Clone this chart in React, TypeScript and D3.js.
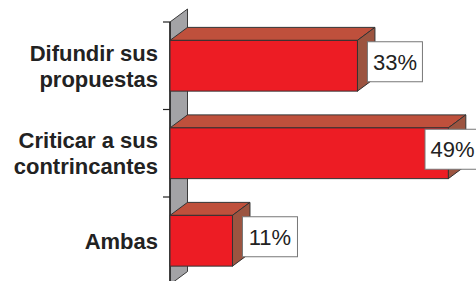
import * as d3 from 'd3';
import { useEffect, useRef } from 'react';

const categories = ['Difundir sus propuestas', 'Criticar a sus contrincantes', 'Ambas'];
const categoryLines = [['Difundir sus', 'propuestas'], ['Criticar a sus', 'contrincantes'], ['Ambas']];
const values = [33, 49, 11];
const valueLabels = ['33%', '49%', '11%'];

const WIDTH = 476;
const HEIGHT = 281;

export default function App() {
  const svgRef = useRef<SVGSVGElement | null>(null);

  useEffect(() => {
    if (!svgRef.current) return;
    const svg = d3.select(svgRef.current);
    svg.selectAll('*').remove();

    const font = "'Liberation Sans', Arial, sans-serif";
    const depthX = 17.5;
    const depthY = -13;
    const axisX = 170;
    const plotTop = 22;

    const x = d3.scaleLinear().domain([0, 50]).range([axisX, 454]);
    const y = d3
      .scaleBand<string>()
      .domain(categories)
      .range([plotTop, plotTop + 262.5])
      .paddingInner(0.42)
      .paddingOuter(0.21);
    const step = y.step();
    const bw = y.bandwidth();
    const plotBottom = plotTop + step * categories.length;

    const poly = (pts: [number, number][]) => pts.map((p) => p.join(',')).join(' ');

    // side wall
    svg
      .append('polygon')
      .attr(
        'points',
        poly([
          [axisX, plotTop],
          [axisX + depthX, plotTop + depthY],
          [axisX + depthX, plotBottom + depthY],
          [axisX, plotBottom],
        ]),
      )
      .attr('fill', '#a3a3a6')
      .attr('stroke', '#3a3a3a')
      .attr('stroke-width', 1);

    // axis line + ticks
    svg
      .append('line')
      .attr('x1', axisX)
      .attr('x2', axisX)
      .attr('y1', plotTop)
      .attr('y2', plotBottom)
      .attr('stroke', '#222')
      .attr('stroke-width', 1.5);

    d3.range(categories.length + 1).forEach((i) => {
      const ty = plotTop + i * step;
      svg
        .append('line')
        .attr('x1', axisX - 7)
        .attr('x2', axisX)
        .attr('y1', ty)
        .attr('y2', ty)
        .attr('stroke', '#222')
        .attr('stroke-width', 1.2);
    });

    const bars = svg
      .selectAll('g.bar')
      .data(categories)
      .join('g')
      .attr('class', 'bar');

    bars.each(function drawBar(cat, i) {
      const g = d3.select(this);
      const x0 = x(0);
      const x1 = x(values[i]);
      const y0 = y(cat)!;
      const y1 = y0 + bw;

      // top face
      g.append('polygon')
        .attr(
          'points',
          poly([
            [x0, y0],
            [x0 + depthX, y0 + depthY],
            [x1 + depthX, y0 + depthY],
            [x1, y0],
          ]),
        )
        .attr('fill', '#bf503c')
        .attr('stroke', '#333')
        .attr('stroke-width', 1);

      // side face
      g.append('polygon')
        .attr(
          'points',
          poly([
            [x1, y0],
            [x1 + depthX, y0 + depthY],
            [x1 + depthX, y1 + depthY],
            [x1, y1],
          ]),
        )
        .attr('fill', '#9c5440')
        .attr('stroke', '#333')
        .attr('stroke-width', 1);

      // front face
      g.append('rect')
        .attr('x', x0)
        .attr('y', y0)
        .attr('width', x1 - x0)
        .attr('height', bw)
        .attr('fill', '#ed1c24')
        .attr('stroke', '#333')
        .attr('stroke-width', 1);

      // value label
      const boxW = 55;
      const boxH = 40;
      const bx = Math.min(x1 + 10, WIDTH - 51);
      const cy = y0 + bw / 2 - 4;
      g.append('rect')
        .attr('x', bx)
        .attr('y', cy - boxH / 2)
        .attr('width', boxW)
        .attr('height', boxH)
        .attr('fill', '#fff')
        .attr('stroke', '#777')
        .attr('stroke-width', 1);
      g.append('text')
        .attr('x', bx + boxW / 2)
        .attr('y', cy + 8)
        .attr('text-anchor', 'middle')
        .attr('font-family', font)
        .attr('font-size', 22)
        .attr('fill', '#222')
        .text(valueLabels[i]);

      // category label
      const lines = categoryLines[i];
      const lineH = 26;
      const mid = y0 + bw / 2;
      lines.forEach((line, j) => {
        svg
          .append('text')
          .attr('x', 158)
          .attr('y', mid + 8 + (j - (lines.length - 1) / 2) * lineH)
          .attr('text-anchor', 'end')
          .attr('font-family', font)
          .attr('font-weight', 'bold')
          .attr('font-size', 22)
          .attr('fill', '#222')
          .text(line);
      });
    });
  }, []);

  return (
    <svg
      ref={svgRef}
      width={WIDTH}
      height={HEIGHT}
      style={{ position: 'absolute', left: 0, top: 0, background: '#fff' }}
    />
  );
}
